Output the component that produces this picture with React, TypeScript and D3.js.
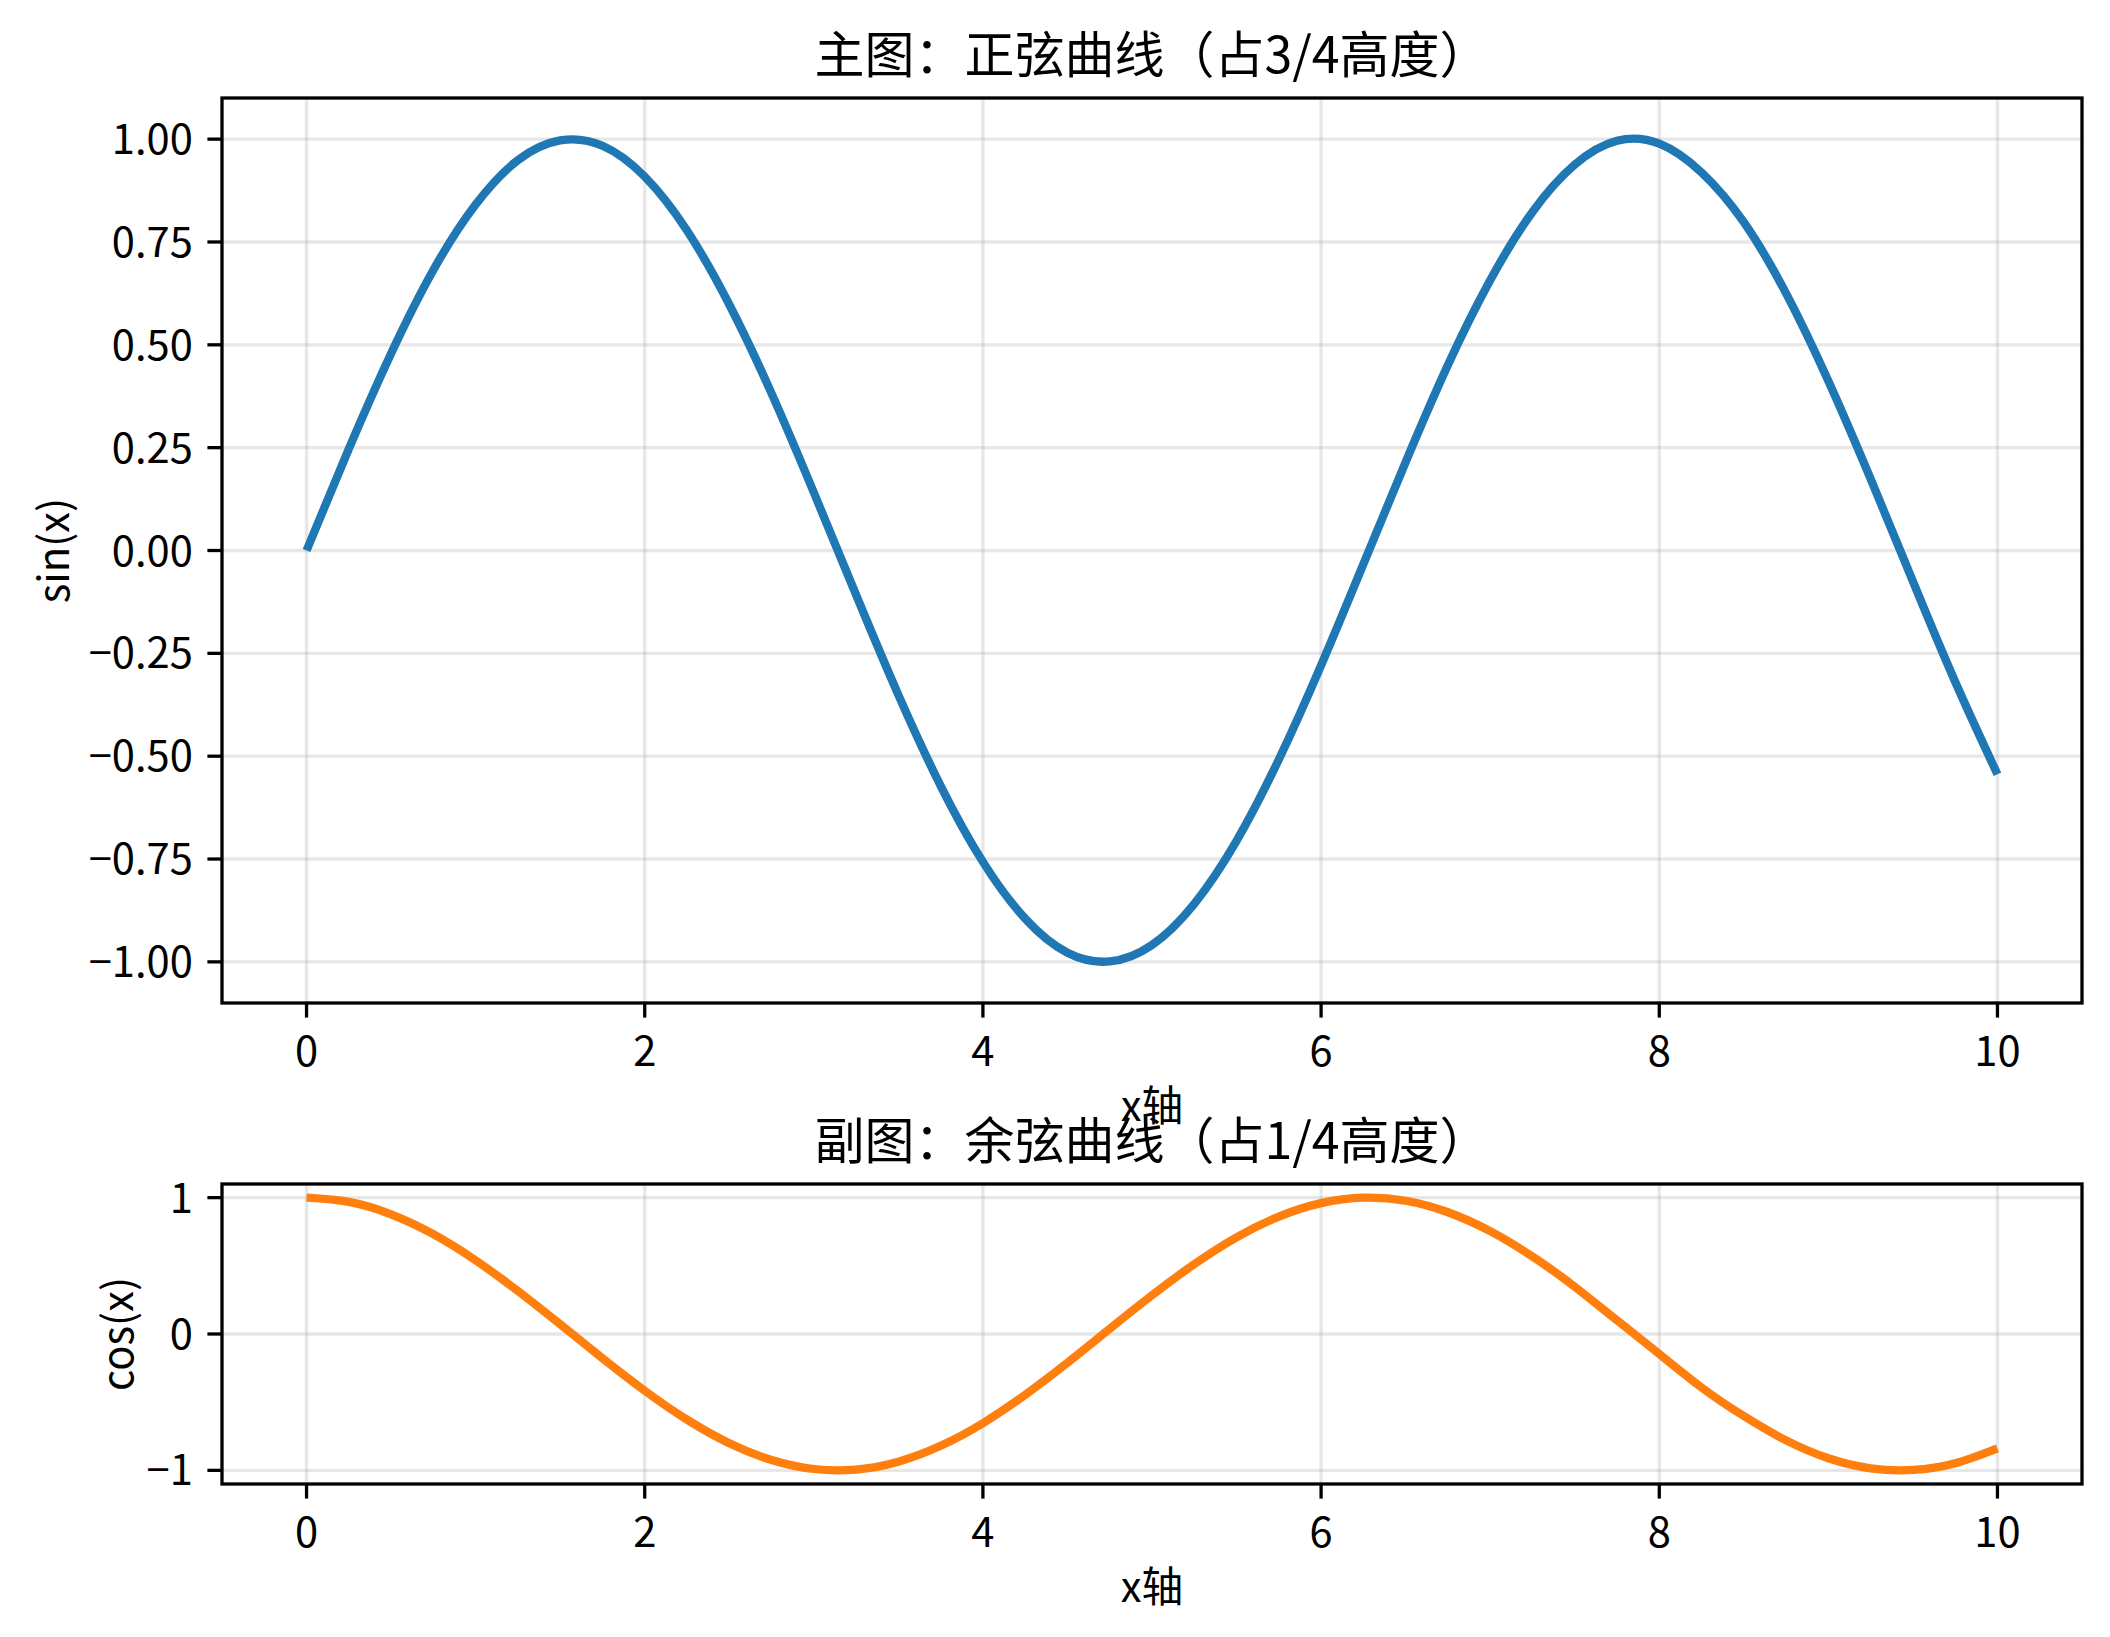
import React, { useEffect, useRef } from 'react'
import * as d3 from 'd3'

let xValues: number[] = [0, 0.25, 0.5, 0.75, 1, 1.25, 1.5, 1.75, 2, 2.25, 2.5, 2.75, 3, 3.25, 3.5, 3.75, 4, 4.25, 4.5, 4.75, 5,
    5.25, 5.5, 5.75, 6, 6.25, 6.5, 6.75, 7, 7.25, 7.5, 7.75, 8, 8.25, 8.5, 8.75, 9, 9.25, 9.5, 9.75, 10]

let sinValues: number[] = [0, 0.247, 0.479, 0.682, 0.841, 0.949, 0.997, 0.984, 0.909, 0.778, 0.598, 0.382, 0.141, -0.108, -0.351,
    -0.572, -0.757, -0.895, -0.978, -0.999, -0.959, -0.859, -0.706, -0.508, -0.279, -0.033, 0.215, 0.451, 0.657, 0.823, 0.938,
    0.996, 0.989, 0.919, 0.798, 0.625, 0.412, 0.174, -0.075, -0.319, -0.544]

let cosValues: number[] = [1, 0.969, 0.878, 0.732, 0.54, 0.315, 0.071, -0.178, -0.416, -0.628, -0.801, -0.924, -0.99, -0.994,
    -0.936, -0.82, -0.654, -0.446, -0.211, 0.038, 0.284, 0.512, 0.709, 0.861, 0.96, 1, 0.977, 0.893, 0.754, 0.568, 0.347, 0.1,
    -0.146, -0.392, -0.602, -0.78, -0.911, -0.985, -0.997, -0.948, -0.839]

let xTicks: number[] = [0, 2, 4, 6, 8, 10]
let sinTicks: number[] = [-1, -0.75, -0.5, -0.25, 0, 0.25, 0.5, 0.75, 1]
let cosTicks: number[] = [-1, 0, 1]

let titles = ['主图：正弦曲线（占3/4高度）', '副图：余弦曲线（占1/4高度）']
let yLabels = ['sin(x)', 'cos(x)']
let xLabel = 'x轴'

export default function App() {
    const ref = useRef<HTMLDivElement>(null)

    let width = 2110, height = 1637
    let font = '"Noto Sans CJK SC", "Noto Sans", sans-serif'
    let tickSize = 41.7, titleSize = 50
    let tickLen = 14.6, pad = 14.6, spine = 3.3

    function panel(svg: any, top: number, bottom: number, values: number[], ticks: number[], fmt: (v: number) => string,
        color: string, title: string, yLabel: string, yLabelX: number, clipId: string) {
        let left = 222, right = 2082

        var x = d3.scaleLinear().domain([-0.5, 10.5]).range([left, right])
        var y = d3.scaleLinear().domain([-1.1, 1.1]).range([bottom, top])

        var g = svg.append('g')

        svg.append('clipPath')
            .attr('id', clipId)
            .append('rect')
            .attr('x', left)
            .attr('y', top)
            .attr('width', right - left)
            .attr('height', bottom - top)

        // grid
        g.selectAll('.gx')
            .data(xTicks)
            .enter()
            .append('line')
            .attr('x1', (d: number) => x(d))
            .attr('x2', (d: number) => x(d))
            .attr('y1', top)
            .attr('y2', bottom)
            .attr('stroke', '#b0b0b0')
            .attr('stroke-opacity', 0.3)
            .attr('stroke-width', 3.3)

        g.selectAll('.gy')
            .data(ticks)
            .enter()
            .append('line')
            .attr('x1', left)
            .attr('x2', right)
            .attr('y1', (d: number) => y(d))
            .attr('y2', (d: number) => y(d))
            .attr('stroke', '#b0b0b0')
            .attr('stroke-opacity', 0.3)
            .attr('stroke-width', 3.3)

        var line = d3.line<number>()
            .x((d, i) => x(xValues[i]))
            .y(d => y(d))
            .curve(d3.curveNatural)

        g.append('path')
            .datum(values)
            .attr('d', line)
            .attr('fill', 'none')
            .attr('stroke', color)
            .attr('stroke-width', 8.3)
            .attr('clip-path', 'url(#' + clipId + ')')

        g.append('rect')
            .attr('x', left)
            .attr('y', top)
            .attr('width', right - left)
            .attr('height', bottom - top)
            .attr('fill', 'none')
            .attr('stroke', 'black')
            .attr('stroke-width', spine)

        // x ticks
        g.selectAll('.tx')
            .data(xTicks)
            .enter()
            .append('line')
            .attr('x1', (d: number) => x(d))
            .attr('x2', (d: number) => x(d))
            .attr('y1', bottom)
            .attr('y2', bottom + tickLen)
            .attr('stroke', 'black')
            .attr('stroke-width', spine)

        g.selectAll('.lx')
            .data(xTicks)
            .enter()
            .append('text')
            .attr('x', (d: number) => x(d))
            .attr('y', bottom + tickLen + pad)
            .attr('dy', '0.8em')
            .attr('text-anchor', 'middle')
            .style('font-size', tickSize + 'px')
            .style('font-family', font)
            .text((d: number) => d3.format('d')(d))

        // y ticks
        g.selectAll('.ty')
            .data(ticks)
            .enter()
            .append('line')
            .attr('x1', left - tickLen)
            .attr('x2', left)
            .attr('y1', (d: number) => y(d))
            .attr('y2', (d: number) => y(d))
            .attr('stroke', 'black')
            .attr('stroke-width', spine)

        g.selectAll('.ly')
            .data(ticks)
            .enter()
            .append('text')
            .attr('x', left - tickLen - pad)
            .attr('y', (d: number) => y(d))
            .attr('dy', '0.36em')
            .attr('text-anchor', 'end')
            .style('font-size', tickSize + 'px')
            .style('font-family', font)
            .text((d: number) => fmt(d))

        g.append('text')
            .attr('x', (left + right) / 2)
            .attr('y', top - 25)
            .attr('text-anchor', 'middle')
            .style('font-size', titleSize + 'px')
            .style('font-family', font)
            .text(title)

        g.append('text')
            .attr('transform', 'translate(' + yLabelX + ', ' + ((top + bottom) / 2) + ') rotate(-90)')
            .attr('text-anchor', 'middle')
            .attr('dy', '0.36em')
            .style('font-size', tickSize + 'px')
            .style('font-family', font)
            .text(yLabel)

        g.append('text')
            .attr('x', (left + right) / 2)
            .attr('y', bottom + 118)
            .attr('text-anchor', 'middle')
            .style('font-size', tickSize + 'px')
            .style('font-family', font)
            .text(xLabel)
    }

    function draw() {
        document.body.style.margin = '0'
        d3.select(ref.current).selectAll('*').remove()

        var svg = d3.select(ref.current)
            .append('svg')
            .attr('width', width)
            .attr('height', height)
            .style('display', 'block')
            .style('background', 'white')

        panel(svg, 98, 1003, sinValues, sinTicks, d3.format('.2f'), '#1f77b4', titles[0], yLabels[0], 54, 'clipSin')
        panel(svg, 1184, 1484, cosValues, cosTicks, d3.format('d'), '#ff7f0e', titles[1], yLabels[1], 118, 'clipCos')
    }

    useEffect(() => {
        draw()
    }, [])

    return (
        <div ref={ref}></div>
    )
}
